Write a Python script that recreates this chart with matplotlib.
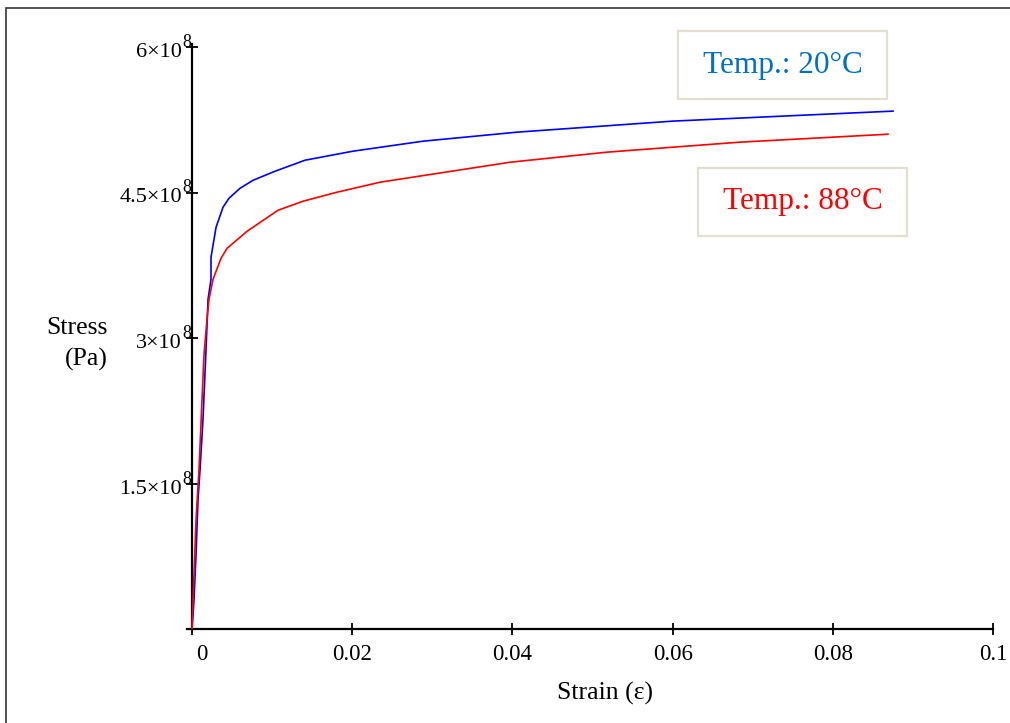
import matplotlib
matplotlib.use("Agg")
import matplotlib.pyplot as plt
import matplotlib.transforms as mtransforms
from matplotlib.patches import Rectangle

plt.rcParams['font.family'] = ['Liberation Serif', 'DejaVu Serif']

# Data (strain, stress in Pa)
strain_20 = [0, 0.00025, 0.0005, 0.00075, 0.001, 0.00137, 0.00175, 0.002, 0.00237, 0.00237,
             0.003, 0.00387, 0.00462, 0.006, 0.00762, 0.01036, 0.01411, 0.0201, 0.02884,
             0.04057, 0.06005, 0.08752]
stress_20 = [0, 0.30e8, 0.764e8, 1.332e8, 1.642e8, 2.158e8, 2.881e8, 3.398e8, 3.604e8, 3.831e8,
             4.141e8, 4.348e8, 4.441e8, 4.544e8, 4.626e8, 4.719e8, 4.833e8, 4.926e8, 5.029e8,
             5.122e8, 5.236e8, 5.339e8]

strain_88 = [0, 0.000125, 0.0005, 0.000874, 0.00125, 0.0015, 0.00187, 0.00212, 0.00262,
             0.00362, 0.00437, 0.00687, 0.01074, 0.01386, 0.0181, 0.02347, 0.0397, 0.05181,
             0.06841, 0.08689]
stress_88 = [0, 0.30e8, 1.126e8, 1.642e8, 2.365e8, 2.830e8, 3.191e8, 3.398e8, 3.604e8,
             3.821e8, 3.924e8, 4.100e8, 4.317e8, 4.410e8, 4.503e8, 4.606e8, 4.812e8, 4.916e8,
             5.019e8, 5.101e8]

x_ticks = [0, 0.02, 0.04, 0.06, 0.08, 0.1]
x_ticklabels = ['0', '0.02', '0.04', '0.06', '0.08', '0.1']
y_ticks = [1.5e8, 3e8, 4.5e8, 6e8]
y_tick_mantissas = ['1.5×10', '3×10', '4.5×10', '6×10']
y_tick_exponent = '8'

label_20 = 'Temp.: 20°C'
label_88 = 'Temp.: 88°C'

W, H = 1010, 723
fig = plt.figure(figsize=(W / 100, H / 100), dpi=100)

# outer frame
fig.patches.append(Rectangle((6 / W, -0.1), 1.2, 1 - 8 / H + 0.1, transform=fig.transFigure,
                             fill=False, edgecolor='#333333', lw=1.2))

ax = fig.add_axes([187 / W, 1 - 629 / H, (993 - 187) / W, (629 - 47) / H])
ax.set_xlim(-0.000625, 0.1)
ax.set_ylim(0, 6e8)
ax.patch.set_alpha(0)

ax.plot(strain_20, stress_20, color='#0000ff', lw=1.2, zorder=3)
ax.plot(strain_88, stress_88, color='#ff0000', lw=1.2, zorder=3)

for s in ['top', 'right']:
    ax.spines[s].set_visible(False)
ax.spines['left'].set_position(('data', 0))
ax.spines['left'].set_linewidth(1.6)
ax.spines['bottom'].set_linewidth(1.6)
ax.spines['left'].set_bounds(0, 6.03e8)

ax.set_xticks(x_ticks)
ax.set_xticklabels(x_ticklabels)
ax.set_yticks(y_ticks)
ax.set_yticklabels([''] * len(y_ticks))
ax.tick_params(axis='x', direction='inout', length=9, width=1.3, labelsize=16.5, pad=6)
ax.tick_params(axis='y', direction='inout', length=9, width=1.3)

# nudge the "0" label to the right like the reference
offset = mtransforms.ScaledTranslation(10 / 100, 0, fig.dpi_scale_trans)
lbl0 = ax.get_xticklabels()[0]
lbl0.set_transform(lbl0.get_transform() + offset)

# y tick labels: mantissa + raised exponent
base_tr = ax.transData
for yv, mant in zip(y_ticks, y_tick_mantissas):
    tr_m = base_tr + mtransforms.ScaledTranslation(-10 / 100, -5.5 / 100, fig.dpi_scale_trans)
    ax.text(0, yv, mant, transform=tr_m, ha='right', va='center', fontsize=16, clip_on=False)
    tr_e = base_tr + mtransforms.ScaledTranslation(-10 / 100, 0 / 100, fig.dpi_scale_trans)
    ax.text(0, yv, y_tick_exponent, transform=tr_e, ha='left', va='baseline', fontsize=13,
            clip_on=False)

fig.text(108 / W, 1 - 344 / H, 'Stress\n(Pa)', ha='right', va='center', fontsize=18.5,
         multialignment='right', linespacing=1.5)
fig.text(605 / W, 1 - 693 / H, 'Strain (ε)', ha='center', va='center', fontsize=18.5)

# annotation boxes
for (x0, y0, x1, y1, txt, col) in [(678, 31, 887, 99, label_20, '#0070c0'),
                                   (698, 168, 907, 236, label_88, '#ff0000')]:
    fig.patches.append(Rectangle((x0 / W, 1 - y1 / H), (x1 - x0) / W, (y1 - y0) / H,
                                 transform=fig.transFigure, fill=True, facecolor='white',
                                 edgecolor='#e3dfd0', lw=1.6))
    fig.text((x0 + x1) / 2 / W, 1 - (y0 + y1) / 2 / H, txt, ha='center', va='center',
             fontsize=22.5, color=col)

fig.savefig('out.png', dpi=100)
